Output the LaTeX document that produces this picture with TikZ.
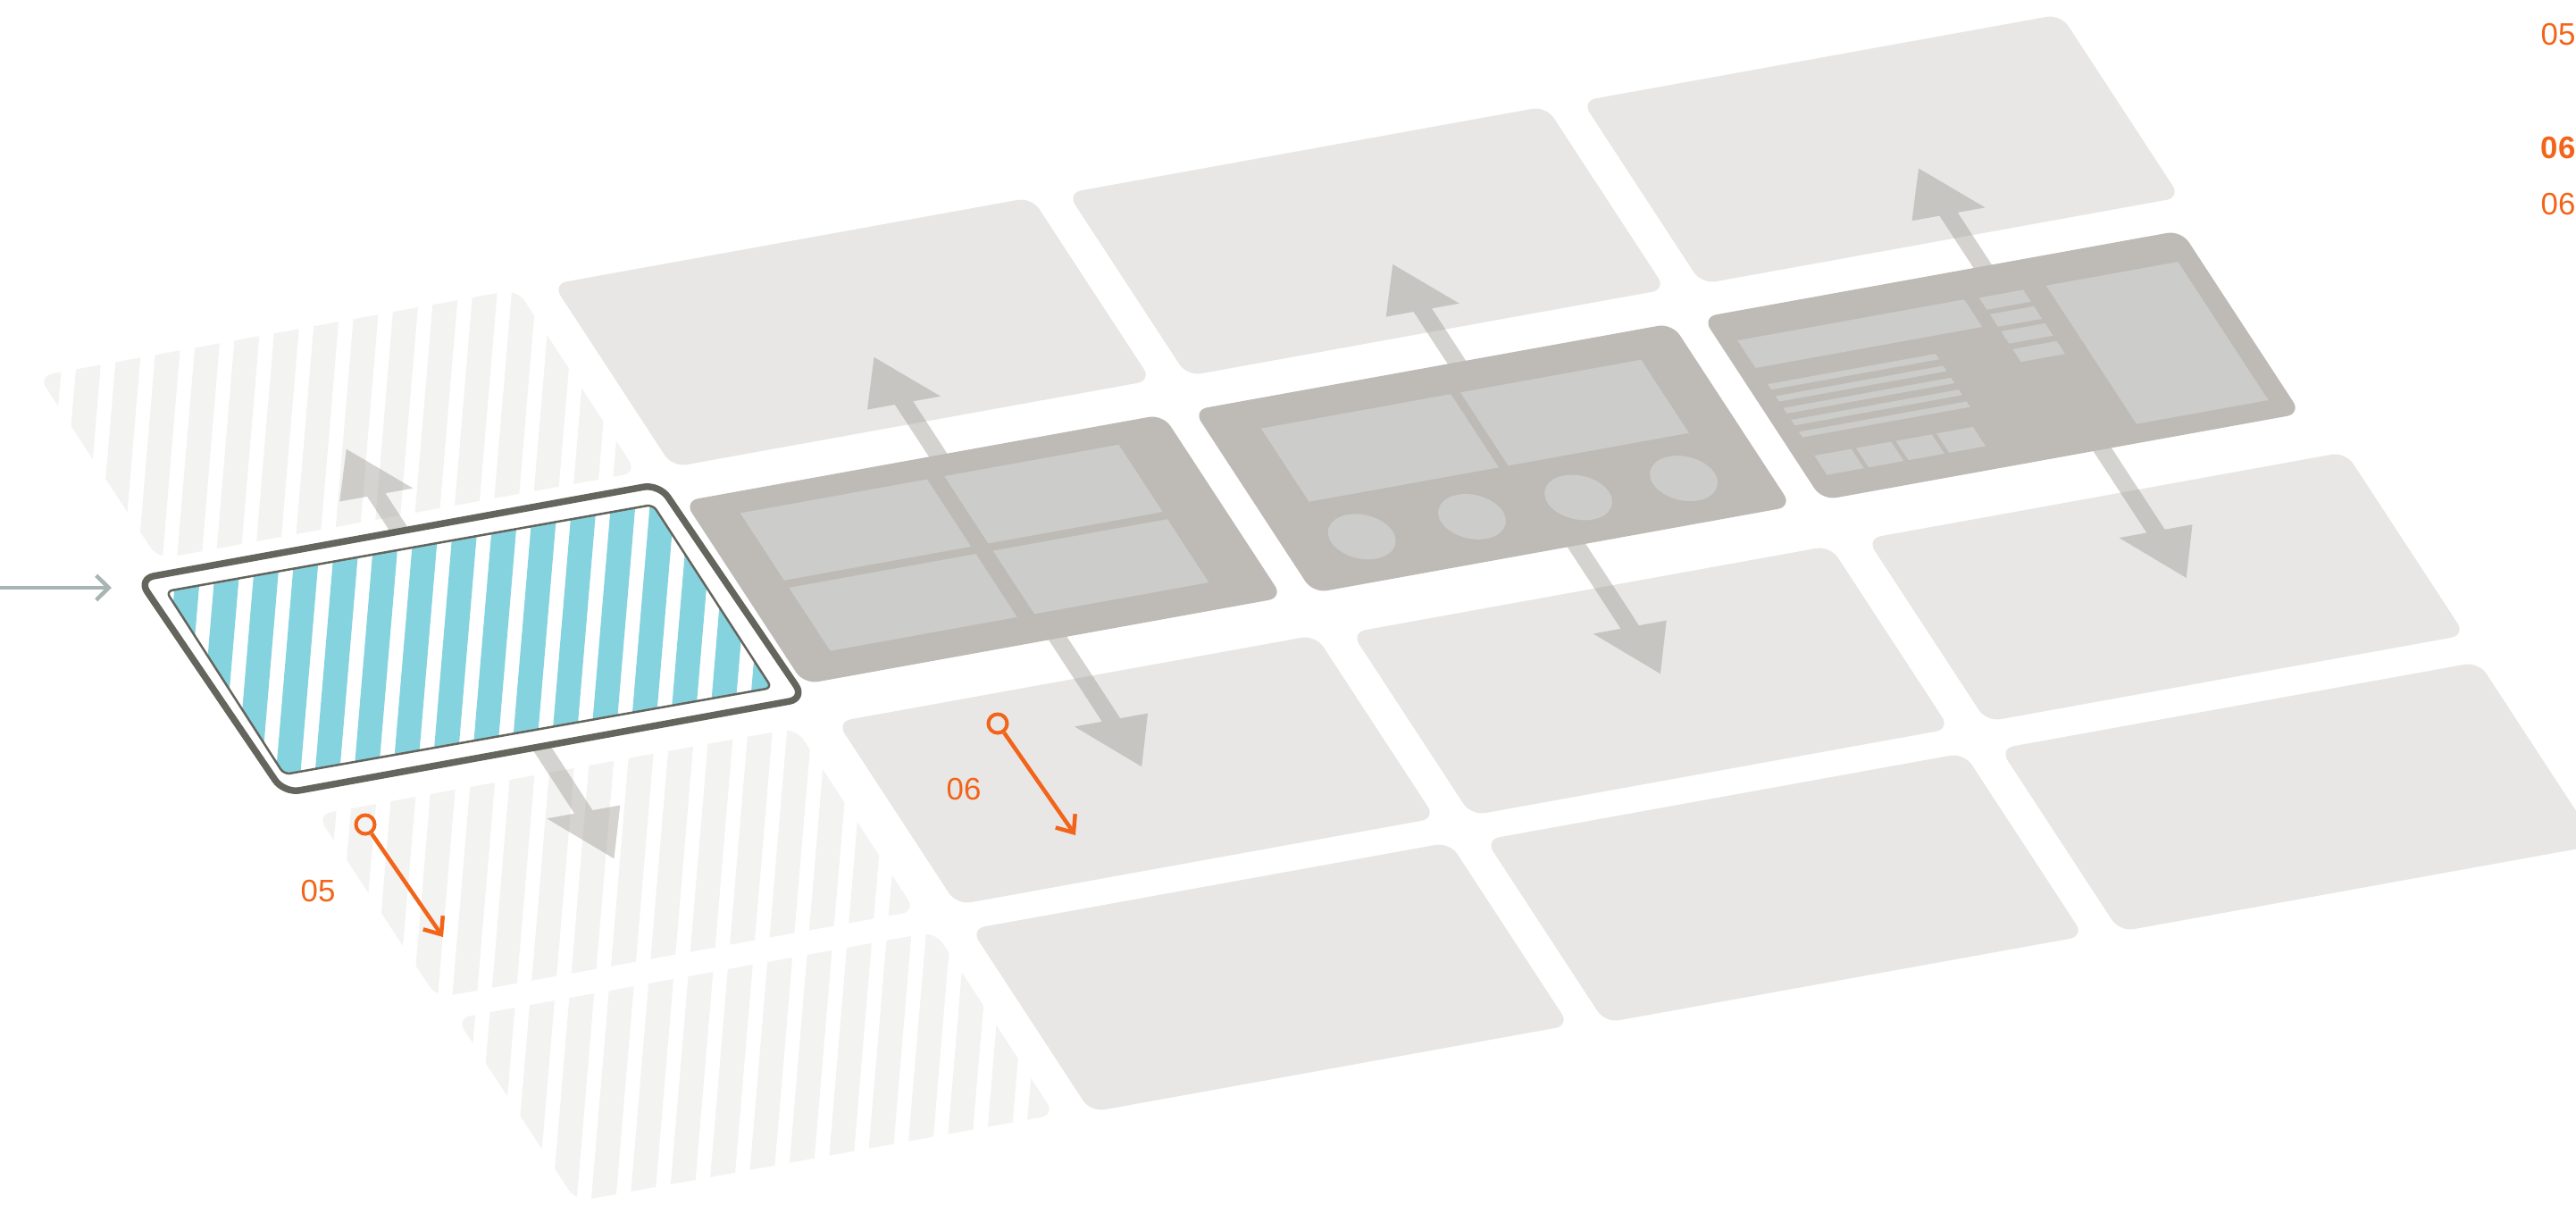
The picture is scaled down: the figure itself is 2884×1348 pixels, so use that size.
\documentclass[tikz,border=0pt]{standalone}
\usepackage{fontspec}
\setmainfont{Liberation Sans}
\usetikzlibrary{arrows.meta}
\definecolor{tileL}{HTML}{E8E7E5}
\definecolor{tileD}{HTML}{BEBBB6}
\definecolor{innerC}{HTML}{CCCCCB}
\definecolor{stripeC}{HTML}{F3F3F2}
\definecolor{blueC}{HTML}{86D3E0}
\definecolor{frameC}{HTML}{64655D}
\definecolor{arrC}{HTML}{A19D96}
\definecolor{orangeC}{HTML}{F26419}
\definecolor{grayArr}{HTML}{A9B5B5}
\newcommand\stripefield[1]{\foreach \ii in {-3,...,32}{\fill[#1] ({76.5+43.7*\ii},-5) -- ({104+43.7*\ii},-5) -- ({-10.6+43.7*\ii},1353) -- ({-38.1+43.7*\ii},1353) -- cycle;}}
\begin{document}
\begin{tikzpicture}[x=0.01cm,y=-0.01cm,
  lighttile/.style={fill=tileL,rounded corners=4.5pt},
  darktile/.style={fill=tileD,rounded corners=4.5pt},
  stripetile/.style={rounded corners=4.5pt},
  innerbox/.style={fill=innerC},
  arrowshape/.style={fill=arrC,fill opacity=0.45},
  tilesys/.style 2 args={shift={(#1,#2)},x={(5.36cm,0.97cm)},y={(1.34cm,-2.05cm)}},
  ring/.style={circle,draw=orangeC,line width=0.04cm,minimum size=0.21cm,inner sep=0pt},
  orangeline/.style={draw=orangeC,line width=0.045cm,-{Straight Barb[length=4.6pt,width=7.6pt]}},
  olabel/.style={text=orangeC,font=\fontsize{9.9pt}{11pt}\selectfont,inner sep=0pt},
  grayarrow/.style={draw=grayArr,line width=0.045cm,-{Straight Barb[length=4pt,width=7.8pt]}},
]
\useasboundingbox (0,0) rectangle (2884,1348);

% striped tiles
\foreach \x/\y in {43/421,355/912,511/1140}{
  \begin{scope}
    \clip[stripetile] (\x,\y) -- ++(536,-97) -- ++(134,205) -- ++(-536,97) -- cycle;
    \stripefield{stripeC}
  \end{scope}
}

% light tiles
\foreach \x/\y in {619/318,1195/216,1771/113,937/808,1513/708,2090/603,1087/1040,1663/940,2239/838}
  \fill[lighttile] (\x,\y) -- ++(536,-97) -- ++(134,205) -- ++(-536,97) -- cycle;

% arrows
\foreach \x/\y/\c in {186/662/0.51,766/561/0.53,1336/459/0.55,1906/355/0.585}{
  \begin{scope}[tilesys={\x}{\y}]
    \fill[arrowshape] ({\c-0.019},0.2) -- ({\c-0.019},-0.285) -- ({\c-0.0765},-0.285) -- (\c,-0.535) -- ({\c+0.0765},-0.285) -- ({\c+0.019},-0.285) -- ({\c+0.019},0.2) -- cycle;
    \fill[arrowshape] ({\c-0.019},0.8) -- ({\c-0.019},1.445) -- ({\c-0.0765},1.445) -- (\c,1.70) -- ({\c+0.0765},1.445) -- ({\c+0.019},1.445) -- ({\c+0.019},0.8) -- cycle;
  \end{scope}
}

% dark tiles
\foreach \x/\y in {766/561,1336/459,1906/355}
  \fill[darktile] (\x,\y) -- ++(536,-97) -- ++(134,205) -- ++(-536,97) -- cycle;

% B2 content
\begin{scope}[tilesys={766}{561}]
  \foreach \pa/\pb/\pc/\pd in {0.09/0.108/0.48/0.475,0.516/0.108/0.88/0.475,0.09/0.515/0.48/0.86,0.516/0.515/0.88/0.86}
    \fill[innerbox] (\pa,\pb) -- (\pc,\pb) -- (\pc,\pd) -- (\pa,\pd) -- cycle;
\end{scope}

% B3 content
\begin{scope}[tilesys={1336}{459}]
  \foreach \pa/\pb/\pc/\pd in {0.104/0.15/0.50/0.55,0.52/0.15/0.897/0.55}
    \fill[innerbox] (\pa,\pb) -- (\pc,\pb) -- (\pc,\pd) -- (\pa,\pd) -- cycle;
  \foreach \pa in {0.16,0.39,0.612,0.832}
    \fill[innerbox] (\pa,0.767) ellipse [x radius=0.064, y radius=0.12];
\end{scope}

% B4 content
\begin{scope}[tilesys={1906}{355}]
  \foreach \pa/\pb/\pc/\pd in {0.037/0.145/0.51/0.295,
      0.54/0.15/0.632/0.215,0.54/0.24/0.632/0.308,0.54/0.333/0.632/0.40,0.54/0.43/0.632/0.50,
      0.04/0.385/0.39/0.415,0.04/0.45/0.39/0.48,0.04/0.515/0.39/0.545,0.04/0.58/0.39/0.61,0.04/0.645/0.39/0.675,
      0.04/0.775/0.117/0.88,0.127/0.775/0.2/0.88,0.21/0.775/0.285/0.88,0.295/0.775/0.371/0.88,
      0.68/0.15/0.955/0.905}
    \fill[innerbox] (\pa,\pb) -- (\pc,\pb) -- (\pc,\pd) -- (\pa,\pd) -- cycle;
\end{scope}

% highlighted tile
\draw[frameC,line width=0.075cm,fill=white,rounded corners=5pt] (155,648) -- (738,542) -- (901,782) -- (318,888) -- cycle;
\begin{scope}
  \clip[rounded corners=2pt] (186,662) -- (731,565) -- (864,770) -- (318,867) -- cycle;
  \stripefield{blueC}
\end{scope}
\draw[frameC,line width=0.025cm,rounded corners=2pt] (186,662) -- (731,565) -- (864,770) -- (318,867) -- cycle;

% gray entry arrow
\coordinate (g0) at (0,658);
\coordinate (g1) at (125,658);
\draw[grayarrow] (g0) -- (g1);

% orange annotations
\node[ring] (r05) at (409,923) {};
\coordinate (t05) at (496,1049);
\draw[orangeline] (r05) -- (t05);
\node[olabel,anchor=base west] (l05) at (336,1009) {05};

\node[ring] (r06) at (1117,810) {};
\coordinate (t06) at (1204,935);
\draw[orangeline] (r06) -- (t06);
\node[olabel,anchor=base west] (l06) at (1059,895) {06};

% right-hand labels
\node[olabel,anchor=base west] (k05) at (2844,50) {05};
\node[olabel,anchor=base west,font=\fontsize{9.9pt}{11pt}\selectfont\bfseries] (k06a) at (2844,177) {06};
\node[olabel,anchor=base west] (k06b) at (2844,240) {06};
\end{tikzpicture}
\end{document}
